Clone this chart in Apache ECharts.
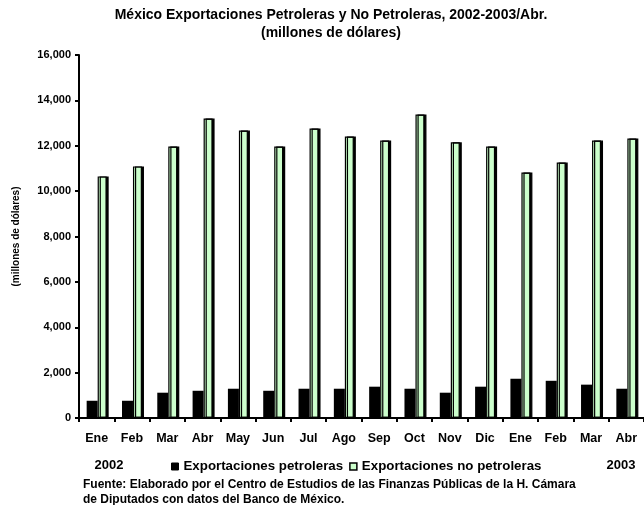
<!DOCTYPE html>
<html>
<head>
<meta charset="utf-8">
<script src="https://cdn.jsdelivr.net/npm/echarts@6/dist/echarts.min.js"></script>
<style>
html,body{margin:0;padding:0;background:#fff;}
#c{width:644px;height:505px;}
</style>
</head>
<body>
<div id="c"></div>
<script>
const categories = ['Ene','Feb','Mar','Abr','May','Jun','Jul','Ago','Sep','Oct','Nov','Dic','Ene','Feb','Mar','Abr'];
const petroleras = [760, 760, 1115, 1200, 1290, 1200, 1290, 1290, 1380, 1290, 1115, 1380, 1730, 1640, 1470, 1290];
const noPetroleras = [10650, 11090, 11970, 13200, 12670, 11970, 12760, 12410, 12230, 13380, 12150, 11970, 10820, 11260, 12230, 12320];
const yTicks = [0, 2000, 4000, 6000, 8000, 10000, 12000, 14000, 16000];

const FONT = '"Liberation Sans", Arial, sans-serif';
const chart = echarts.init(document.getElementById('c'), null, {renderer: 'canvas'});
chart.setOption({
  backgroundColor: '#ffffff',
  animation: false,
  title: [
    {text: 'México Exportaciones Petroleras y No Petroleras, 2002-2003/Abr.\n(millones de dólares)', left: 326, top: 1, textAlign: 'center',
     textStyle: {fontFamily: FONT, fontSize: 14, fontWeight: 'bold', color: '#000', lineHeight: 18}},
    {text: '2002', left: 104, top: 454, textAlign: 'center', textStyle: {fontFamily: FONT, fontSize: 13, fontWeight: 'bold', color: '#000'}},
    {text: '2003', left: 616, top: 454, textAlign: 'center', textStyle: {fontFamily: FONT, fontSize: 13, fontWeight: 'bold', color: '#000'}},
    {text: 'Fuente: Elaborado por el Centro de Estudios de las Finanzas Públicas de la H. Cámara\nde Diputados con datos del Banco de México.', left: 78, top: 472,
     textStyle: {fontFamily: FONT, fontSize: 12, fontWeight: 'bold', color: '#000', lineHeight: 15}}
  ],
  legend: {
    left: 166, top: 455, itemWidth: 7, itemHeight: 7, itemGap: 6,
    icon: 'rect',
    textStyle: {fontFamily: FONT, fontSize: 13.3, fontWeight: 'bold', color: '#000'},
    data: [
      {name: 'Exportaciones petroleras', itemStyle: {color: '#000', borderColor: '#000', borderWidth: 1}},
      {name: 'Exportaciones no petroleras', itemStyle: {color: '#ccffcc', borderColor: '#000', borderWidth: 1.5}}
    ]
  },
  grid: {left: 79, right: 0, top: 55, bottom: 87, containLabel: false},
  xAxis: {
    type: 'category', data: categories, boundaryGap: true,
    axisLine: {lineStyle: {color: '#000', width: 2}},
    axisTick: {show: true, length: 4, lineStyle: {color: '#000', width: 2}, alignWithLabel: false},
    axisLabel: {fontFamily: FONT, fontSize: 12.5, fontWeight: 'bold', color: '#000', margin: 14, interval: 0}
  },
  yAxis: {
    type: 'value', min: 0, max: 16000, interval: 2000,
    name: '(millones de dólares)', nameLocation: 'middle', nameRotate: 90, nameGap: 58,
    nameTextStyle: {fontFamily: FONT, fontSize: 10, fontWeight: 'bold', color: '#000'},
    axisLine: {show: true, lineStyle: {color: '#000', width: 2}},
    axisTick: {show: true, length: 4, lineStyle: {color: '#000', width: 2}},
    splitLine: {show: false},
    axisLabel: {fontFamily: FONT, fontSize: 11, fontWeight: 'bold', color: '#000', margin: 8,
      formatter: v => yTicks.includes(v) ? v.toLocaleString('en-US') : ''}
  },
  series: [
    {name: 'Exportaciones petroleras', type: 'bar', data: petroleras, barWidth: 11, barGap: '0%',
     itemStyle: {color: '#000'}},
    {name: 'Exportaciones no petroleras', type: 'bar', data: noPetroleras, barWidth: 9,
     itemStyle: {color: '#ccffcc', borderColor: '#000', borderWidth: 1.2,
       shadowColor: '#000', shadowOffsetX: 2, shadowOffsetY: 0, shadowBlur: 0}}
  ]
});
</script>
</body>
</html>
